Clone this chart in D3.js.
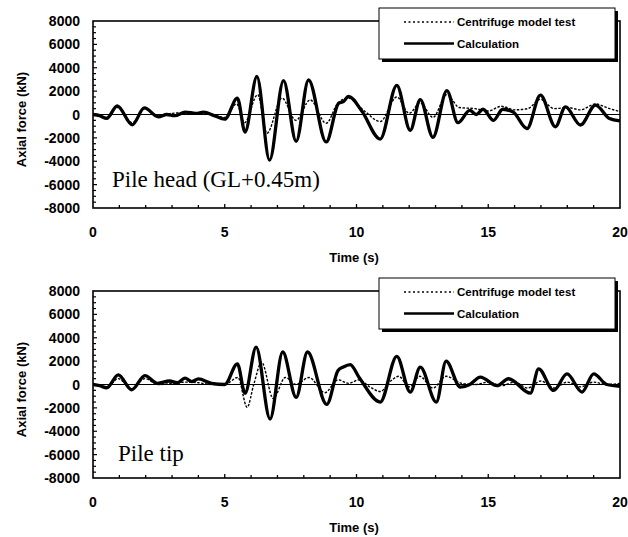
<!DOCTYPE html>
<html><head><meta charset="utf-8">
<script src="https://cdn.jsdelivr.net/npm/d3@7"></script>
<style>body{margin:0;background:#fff}svg{display:block}</style>
</head><body>
<svg id="c" width="628" height="537"></svg>
<script>
// ---- data ----
const yTicks = [8000, 6000, 4000, 2000, 0, -2000, -4000, -6000, -8000];
const xTicks = [0, 5, 10, 15, 20];
const legendLabels = ["Centrifuge model test", "Calculation"];
const panelTitles = ["Pile head (GL+0.45m)", "Pile tip"];

// Pile head – calculation
const headCalcT = [0,0.25,0.52,0.92,1.49,1.95,2.48,2.8,3.1,3.5,3.9,4.2,4.6,5.0,5.48,5.77,6.22,6.7,7.23,7.71,8.18,8.85,9.32,9.5,9.7,10.2,10.9,11.53,12.04,12.42,12.9,13.43,13.85,14.3,14.55,14.8,15.2,15.55,15.95,16.47,16.98,17.55,17.93,18.5,19.07,19.6,20];
const headCalcV = [0,-100,-330,740,-880,560,-200,0,-100,200,100,200,-100,-400,1400,-1500,3250,-3900,2900,-2300,2950,-2350,950,1100,1550,300,-2100,2500,-1350,1280,-1950,2050,-700,350,0,450,-500,450,200,-1200,1650,-1050,650,-900,800,-350,-550];
// Pile head – centrifuge test
const headTestT = [0,0.52,0.92,1.49,1.95,2.48,3.0,3.5,4.0,4.5,5.0,5.45,5.75,6.25,6.6,7.17,7.7,8.24,8.85,9.3,9.7,10.3,10.9,11.53,12.0,12.42,12.9,13.43,13.9,14.5,15.0,15.5,16.0,16.5,16.98,17.5,18.0,18.5,19.07,19.6,20];
const headTestV = [0,-250,600,-700,500,-150,100,150,100,0,-250,900,-700,1700,-1600,1400,-500,1250,-750,1000,1400,300,-600,1500,100,1000,-250,1700,600,500,300,700,400,500,1300,500,600,400,900,500,250];
// Pile tip – calculation
const tipCalcT = [0,0.25,0.52,0.96,1.47,1.97,2.45,2.9,3.2,3.49,3.75,4.0,4.5,5.0,5.48,5.77,6.19,6.72,7.2,7.71,8.14,8.87,9.3,9.5,9.76,10.1,10.9,11.53,12.04,12.42,13.03,13.4,13.94,14.3,14.7,15.33,15.77,16.6,16.91,17.48,17.99,18.56,19.0,19.5,20];
const tipCalcV = [0,-100,-280,830,-450,760,100,300,150,550,250,480,100,0,1770,-750,3200,-2950,2780,-1100,2780,-1700,1200,1500,1700,600,-1500,2400,-650,1480,-1500,2000,-230,0,630,-100,490,-740,1340,-510,910,-650,910,0,-150];
// Pile tip – centrifuge test
const tipTestT = [0,0.52,0.96,1.47,1.97,2.5,3.0,3.5,4.0,4.5,5.0,5.5,5.85,6.1,6.4,6.84,7.3,7.7,8.2,8.8,9.3,9.7,10.1,10.5,10.9,11.3,11.6,12.0,12.4,12.9,13.4,14.0,14.5,15.0,15.5,16.0,16.5,17.0,17.5,18.0,18.5,19.0,19.5,20];
const tipTestV = [0,-200,500,-350,500,0,100,200,150,0,0,600,-1950,0,1900,-1200,600,0,600,-700,400,100,400,-200,-600,300,700,-200,700,-300,700,100,0,200,-100,200,-300,300,-300,200,-200,200,0,100];

const panels = [
  {calcT: headCalcT, calcV: headCalcV, testT: headTestT, testV: headTestV, title: panelTitles[0], dy: 0, tx: 112, ty: 187},
  {calcT: tipCalcT, calcV: tipCalcV, testT: tipTestT, testV: tipTestV, title: panelTitles[1], dy: 270, tx: 118, ty: 191}
];

// ---- drawing ----
const svg = d3.select("#c");
const L = 93, R = 620, T = 21, B = 208;
const x = d3.scaleLinear().domain([0, 20]).range([L, R]);
const y = d3.scaleLinear().domain([-8000, 8000]).range([B, T]);
const sans = "'Liberation Sans', Arial, sans-serif";

panels.forEach(p => {
  const g = svg.append("g").attr("transform", `translate(0,${p.dy})`);
  const clip = "clip" + p.dy;
  g.append("clipPath").attr("id", clip).append("rect")
    .attr("x", L).attr("y", T).attr("width", R - L).attr("height", B - T);

  // minor ticks (inward)
  g.append("g").selectAll("line").data(d3.range(1, 20)).join("line")
    .attr("x1", d => x(d)).attr("x2", d => x(d))
    .attr("y1", B).attr("y2", d => d % 5 === 0 ? B - 4 : B - 3)
    .attr("stroke", "#000").attr("stroke-width", 1.3);
  g.append("g").selectAll("line").data(d3.range(-7500, 8000, 500)).join("line")
    .attr("x1", L).attr("x2", d => d % 2000 === 0 ? L + 4 : L + 3)
    .attr("y1", d => y(d)).attr("y2", d => y(d))
    .attr("stroke", "#000").attr("stroke-width", 1.2);

  // zero line
  g.append("line").attr("x1", L).attr("x2", R).attr("y1", y(0)).attr("y2", y(0))
    .attr("stroke", "#000").attr("stroke-width", 1);

  const line = d3.line().x(d => x(d[0])).y(d => y(d[1])).curve(d3.curveMonotoneX);
  const test = p.testT.map((t, i) => [t, p.testV[i]]);
  const calc = p.calcT.map((t, i) => [t, p.calcV[i]]);
  g.append("path").datum(test).attr("d", line).attr("fill", "none")
    .attr("stroke", "#000").attr("stroke-width", 1.4).attr("stroke-dasharray", "2.5,1.5")
    .attr("clip-path", `url(#${clip})`);
  g.append("path").datum(calc).attr("d", line).attr("fill", "none")
    .attr("stroke", "#000").attr("stroke-width", 3.3).attr("stroke-linejoin", "round")
    .attr("clip-path", `url(#${clip})`);

  // frame
  g.append("rect").attr("x", L).attr("y", T).attr("width", R - L).attr("height", B - T)
    .attr("fill", "none").attr("stroke", "#000").attr("stroke-width", 1.6);

  // y tick labels
  g.append("g").selectAll("text").data(yTicks).join("text")
    .attr("x", 80).attr("y", d => y(d) + 5).attr("text-anchor", "end")
    .attr("font-family", sans).attr("font-weight", "bold").attr("font-size", 14)
    .text(d => d < 0 ? "-" + Math.abs(d) : d);
  // x tick labels
  g.append("g").selectAll("text").data(xTicks).join("text")
    .attr("x", d => x(d)).attr("y", 237).attr("text-anchor", "middle")
    .attr("font-family", sans).attr("font-weight", "bold").attr("font-size", 14)
    .text(d => d);
  // axis titles
  g.append("text").attr("x", 354).attr("y", 262).attr("text-anchor", "middle")
    .attr("font-family", sans).attr("font-weight", "bold").attr("font-size", 13)
    .text("Time (s)");
  g.append("text").attr("transform", `translate(26,${(T + B) / 2 + 5}) rotate(-90)`)
    .attr("text-anchor", "middle").attr("font-family", sans).attr("font-weight", "bold").attr("font-size", 13)
    .text("Axial force (kN)");

  // panel title
  g.append("text").attr("x", p.tx).attr("y", p.ty)
    .attr("font-family", "'Liberation Serif', 'Times New Roman', serif").attr("font-size", 23)
    .text(p.title);

  // legend
  const lg = g.append("g");
  lg.append("rect").attr("x", 382).attr("y", 11).attr("width", 236).attr("height", 51).attr("fill", "#000");
  lg.append("rect").attr("x", 379).attr("y", 8).attr("width", 236).attr("height", 51)
    .attr("fill", "#fff").attr("stroke", "#000").attr("stroke-width", 1);
  lg.append("line").attr("x1", 404).attr("x2", 454).attr("y1", 22).attr("y2", 22)
    .attr("stroke", "#000").attr("stroke-width", 1.3).attr("stroke-dasharray", "2,2.5");
  lg.append("line").attr("x1", 404).attr("x2", 454).attr("y1", 43.5).attr("y2", 43.5)
    .attr("stroke", "#000").attr("stroke-width", 2.5);
  lg.selectAll("text.lg").data(legendLabels).join("text").attr("class", "lg")
    .attr("x", 457).attr("y", (d, i) => 26 + i * 21.5)
    .attr("font-family", sans).attr("font-weight", "bold").attr("font-size", 11.5)
    .text(d => d);
});
</script>
</body></html>
